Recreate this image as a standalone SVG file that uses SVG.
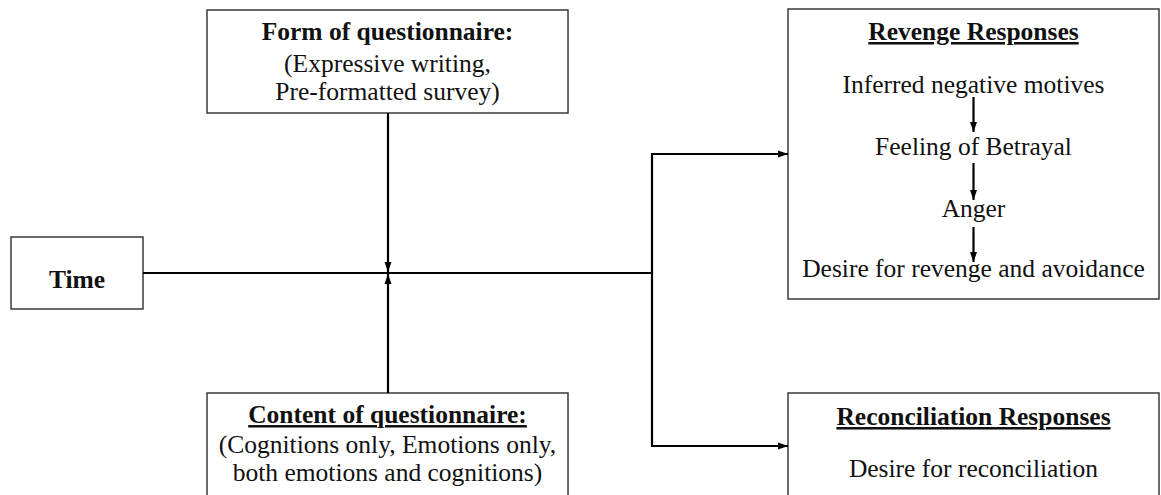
<svg xmlns="http://www.w3.org/2000/svg" width="1161" height="495" viewBox="0 0 1161 495">
<defs>
<style>
.box{fill:#fff;stroke:#3a3a3a;stroke-width:1.5}
.t{font-family:"Liberation Serif","Times New Roman",serif;font-size:25.5px;fill:#111;text-anchor:middle}
.b{font-weight:bold}
.u{text-decoration:underline}
.c{fill:none;stroke:#000;stroke-width:2.2}
</style>
<marker id="ah" markerUnits="userSpaceOnUse" markerWidth="10" markerHeight="10" viewBox="0 0 10 10" refX="10" refY="5" orient="auto">
<path d="M0,1.5 L10,5 L0,8.5 Z" fill="#000"/>
</marker>
</defs>
<rect width="1161" height="495" fill="#fff"/>
<g id="time">
<rect class="box" x="11" y="237" width="132" height="72"/>
<text class="t b" x="77" y="288">Time</text>
</g>
<g id="form">
<rect class="box" x="207" y="10" width="361" height="103"/>
<text class="t b" x="387.5" y="40">Form of questionnaire:</text>
<text class="t" x="387.5" y="72">(Expressive writing,</text>
<text class="t" x="387.5" y="100">Pre-formatted survey)</text>
</g>
<g id="content">
<rect class="box" x="207" y="393" width="361" height="120"/>
<text class="t b u" x="387.5" y="423">Content of questionnaire:</text>
<text class="t" x="387.5" y="453">(Cognitions only, Emotions only,</text>
<text class="t" x="387.5" y="481">both emotions and cognitions)</text>
</g>
<g id="revenge">
<rect class="box" x="788" y="9" width="371" height="290"/>
<text class="t b u" x="973.5" y="40">Revenge Responses</text>
<text class="t" x="973.5" y="93">Inferred negative motives</text>
<text class="t" x="973.5" y="155">Feeling of Betrayal</text>
<text class="t" x="973.5" y="217">Anger</text>
<text class="t" x="973.5" y="277">Desire for revenge and avoidance</text>
</g>
<g id="reconciliation">
<rect class="box" x="788" y="393" width="371" height="120"/>
<text class="t b u" x="973.5" y="425">Reconciliation Responses</text>
<text class="t" x="973.5" y="477">Desire for reconciliation</text>
</g>
<g id="connectors">
<line class="c" x1="143" y1="273" x2="652" y2="273"/>
<line class="c" x1="388" y1="113" x2="388" y2="272" marker-end="url(#ah)"/>
<line class="c" x1="388" y1="393" x2="388" y2="274" marker-end="url(#ah)"/>
<path class="c" d="M652,154 V446"/>
<line class="c" x1="651" y1="154" x2="788" y2="154" marker-end="url(#ah)"/>
<line class="c" x1="651" y1="446" x2="788" y2="446" marker-end="url(#ah)"/>
<line class="c" x1="973.5" y1="97" x2="973.5" y2="132" marker-end="url(#ah)"/>
<line class="c" x1="973.5" y1="163" x2="973.5" y2="200" marker-end="url(#ah)"/>
<line class="c" x1="973.5" y1="227" x2="973.5" y2="262" marker-end="url(#ah)"/>
</g>
</svg>
